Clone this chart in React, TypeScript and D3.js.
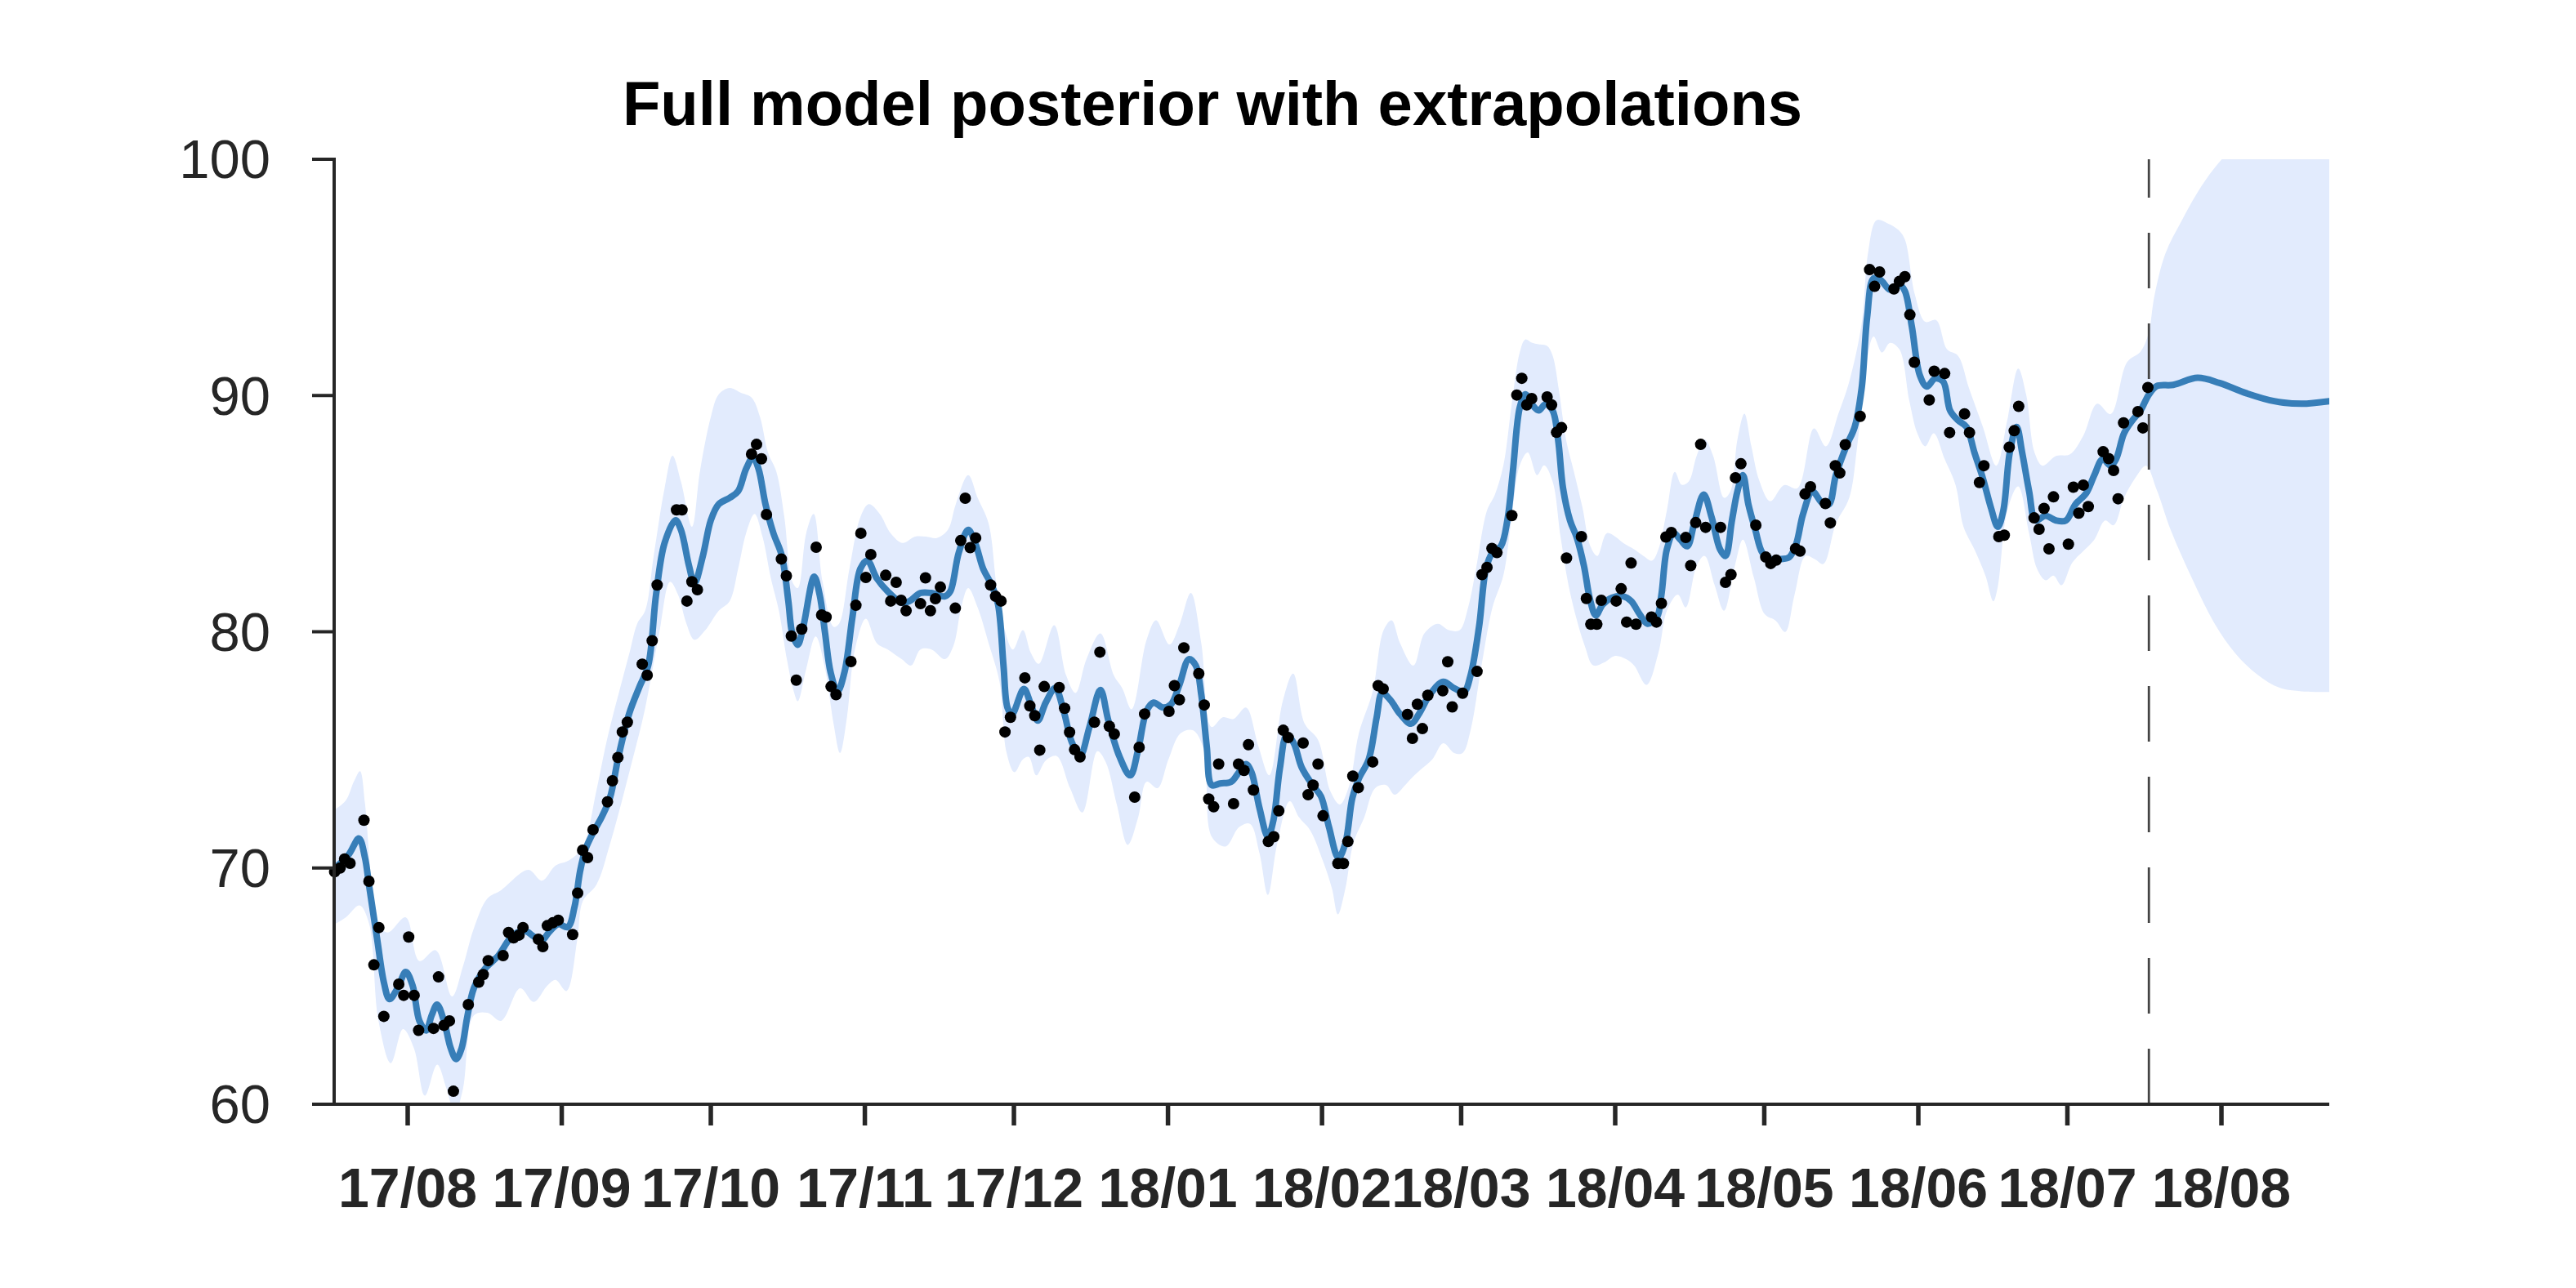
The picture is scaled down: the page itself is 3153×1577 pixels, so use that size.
import React from "react";
import * as d3 from "d3";

// ---------- data (days since 2017-08-01, value) ----------
const titleText = "Full model posterior with extrapolations";
const yTickValues = [60, 70, 80, 90, 100];
const forecastStartDay = 350.4;
const domainStartDay = -14.8;
const domainEndDay = 386.7;

const observations: [number, number][] = [
  [-14.7, 69.84], [-13.6, 70.0], [-12.7, 70.38], [-11.6, 70.2], [-8.8, 72.02], [-7.8, 69.44],
  [-6.8, 65.9], [-5.8, 67.48], [-4.8, 63.72], [-1.8, 65.08], [-0.8, 64.61], [0.2, 67.08],
  [1.3, 64.61], [2.2, 63.13], [5.2, 63.21], [6.2, 65.39], [7.3, 63.34], [8.4, 63.53],
  [9.2, 60.55], [12.2, 64.22], [14.3, 65.17], [15.2, 65.49], [16.2, 66.08], [19.2, 66.29],
  [20.3, 67.27], [21.3, 67.04], [22.4, 67.16], [23.2, 67.48], [26.3, 66.98], [27.2, 66.67],
  [28.1, 67.56], [29.2, 67.68], [30.3, 67.79], [33.2, 67.18], [34.2, 68.94], [35.2, 70.75],
  [36.2, 70.44], [37.3, 71.62], [40.2, 72.8], [41.2, 73.69], [42.3, 74.68], [43.2, 75.76],
  [44.2, 76.17], [47.2, 78.63], [48.2, 78.16], [49.2, 79.62], [50.2, 81.98], [54.1, 85.16],
  [55.2, 85.16], [56.2, 81.3], [57.2, 82.12], [58.3, 81.78], [69.2, 87.52], [70.2, 87.93],
  [71.2, 87.32], [72.2, 84.96], [75.2, 83.08], [76.2, 82.37], [77.2, 79.82], [78.2, 77.95],
  [79.3, 80.11], [82.2, 83.58], [83.3, 80.71], [84.2, 80.62], [85.2, 77.68], [86.2, 77.34],
  [89.2, 78.74], [90.2, 81.12], [91.2, 84.17], [92.2, 82.3], [93.2, 83.27], [96.2, 82.39],
  [97.2, 81.3], [98.3, 82.09], [99.3, 81.33], [100.3, 80.89], [103.2, 81.19], [104.2, 82.28],
  [105.2, 80.89], [106.2, 81.4], [107.2, 81.89], [110.2, 81.0], [111.3, 83.86], [112.2, 85.65],
  [113.2, 83.56], [114.3, 83.97], [117.3, 81.98], [118.3, 81.5], [119.4, 81.3], [120.2, 75.76],
  [121.3, 76.38], [124.2, 78.05], [125.2, 76.86], [126.2, 76.45], [127.2, 74.99], [128.1, 77.68],
  [131.1, 77.64], [132.2, 76.76], [133.2, 75.75], [134.2, 75.01], [135.3, 74.7], [138.2, 76.17],
  [139.3, 79.14], [141.2, 76.0], [142.2, 75.67], [146.3, 73.0], [147.2, 75.11], [148.3, 76.52],
  [153.2, 76.63], [154.3, 77.72], [155.3, 77.12], [156.2, 79.32], [159.2, 78.23], [160.3, 76.9],
  [161.2, 72.92], [162.2, 72.59], [163.2, 74.4], [166.2, 72.72], [167.2, 74.4], [168.3, 74.13],
  [169.2, 75.22], [170.2, 73.3], [173.2, 71.12], [174.3, 71.32], [175.3, 72.42], [176.2, 75.83],
  [177.2, 75.52], [180.2, 75.29], [181.2, 73.1], [182.2, 73.51], [183.2, 74.4], [184.2, 72.21],
  [187.2, 70.19], [188.3, 70.19], [189.2, 71.12], [190.2, 73.89], [191.3, 73.4], [194.2, 74.49],
  [195.3, 77.72], [196.3, 77.58], [201.2, 76.5], [202.2, 75.49], [203.2, 76.93], [204.2, 75.9],
  [205.3, 77.31], [208.3, 77.5], [209.3, 78.73], [210.2, 76.82], [212.3, 77.4], [215.2, 78.32],
  [216.2, 82.42], [217.2, 82.72], [218.2, 83.53], [219.2, 83.35], [222.2, 84.92], [223.2, 90.02],
  [224.2, 90.73], [225.2, 89.6], [226.2, 89.87], [229.3, 89.94], [230.2, 89.6], [231.2, 88.44],
  [232.2, 88.64], [233.2, 83.12], [236.2, 84.03], [237.2, 81.41], [238.1, 80.32], [239.3, 80.32],
  [240.2, 81.33], [243.2, 81.3], [244.2, 81.82], [245.3, 80.41], [246.2, 82.91], [247.2, 80.32],
  [250.3, 80.62], [251.3, 80.41], [252.3, 81.2], [253.2, 84.01], [254.3, 84.2], [257.2, 83.99],
  [258.2, 82.8], [259.2, 84.62], [260.2, 87.93], [261.2, 84.42], [264.2, 84.42], [265.2, 82.09],
  [266.3, 82.42], [267.2, 86.52], [268.3, 87.11], [271.3, 84.51], [273.3, 83.16], [274.3, 82.89],
  [275.4, 83.03], [279.3, 83.52], [280.2, 83.41], [281.2, 85.83], [282.3, 86.14], [285.3, 85.43],
  [286.3, 84.61], [287.3, 87.03], [288.2, 86.72], [289.3, 87.92], [292.3, 89.12], [294.2, 95.33],
  [295.2, 94.62], [296.2, 95.23], [299.1, 94.51], [300.2, 94.83], [301.3, 95.03], [302.3, 93.42],
  [303.2, 91.41], [306.2, 89.81], [307.2, 91.03], [309.3, 90.93], [310.3, 88.43], [313.3, 89.22],
  [314.3, 88.43], [316.3, 86.32], [317.2, 87.03], [320.2, 84.03], [321.3, 84.09], [322.3, 87.81],
  [323.3, 88.51], [324.2, 89.54], [327.3, 84.82], [328.3, 84.34], [329.3, 85.22], [330.3, 83.51],
  [331.2, 85.71], [334.2, 83.71], [335.2, 86.12], [336.3, 85.02], [337.2, 86.21], [338.2, 85.3],
  [341.2, 87.62], [342.3, 87.33], [343.3, 86.83], [344.2, 85.63], [345.3, 88.84], [348.2, 89.32],
  [349.2, 88.63], [350.2, 90.34],
];

const posteriorMean: [number, number][] = [
  [-14.75, 69.98], [-11.9, 70.56], [-9.81, 71.25], [-8.6, 70.44], [-7.79, 69.29], [-6.14, 66.98],
  [-4.77, 65.14], [-3.68, 64.45], [-2.03, 64.91], [-0.39, 65.6], [0.98, 65.03], [2.35, 63.53],
  [3.72, 63.12], [4.82, 63.76], [5.91, 64.22], [7.29, 63.53], [8.66, 62.37], [9.75, 61.91],
  [10.85, 62.37], [11.94, 63.64], [13.31, 64.91], [15.51, 65.72], [18.25, 66.29], [20.44, 66.98],
  [22.08, 67.27], [23.73, 67.33], [25.37, 67.1], [27.02, 66.93], [28.39, 67.27], [30.3, 67.62],
  [32.22, 67.5], [33.59, 68.37], [34.69, 69.86], [35.78, 70.79], [37.43, 71.54], [39.07, 72.17],
  [40.72, 72.98], [42.4, 74.7], [44.6, 76.55], [46.7, 77.7], [48.4, 78.57], [50.0, 81.6],
  [51.7, 83.76], [53.9, 84.72], [55.0, 84.31], [56.6, 82.8], [57.7, 82.05], [59.4, 83.21],
  [61.0, 84.72], [62.6, 85.4], [64.8, 85.67], [66.5, 85.95], [68.1, 86.9], [69.5, 87.38],
  [70.6, 86.9], [72.0, 85.4], [73.6, 84.17], [75.3, 83.21], [76.6, 81.3], [77.4, 79.93],
  [78.5, 79.45], [79.6, 80.21], [81.8, 82.33], [82.9, 81.57], [84.0, 79.93], [85.1, 78.29],
  [86.5, 77.47], [87.9, 78.29], [89.5, 80.62], [91.1, 82.67], [92.5, 83.01], [94.4, 82.26],
  [96.6, 81.71], [99.4, 81.23], [101.0, 81.3], [103.2, 81.64], [105.4, 81.64], [108.1, 81.5],
  [109.2, 81.71], [110.9, 83.35], [112.8, 84.31], [114.2, 83.76], [115.8, 82.67], [117.5, 81.98],
  [118.8, 81.16], [119.9, 78.57], [120.7, 76.79], [121.6, 76.5], [124.0, 77.58], [125.4, 76.93],
  [126.8, 76.24], [128.4, 77.0], [130.3, 77.61], [132.0, 76.65], [133.6, 75.35], [135.3, 74.74],
  [137.2, 75.97], [139.4, 77.54], [141.0, 76.24], [143.2, 74.74], [145.4, 73.92], [147.0, 75.01],
  [148.7, 76.65], [150.1, 77.0], [152.0, 76.79], [153.6, 76.93], [155.3, 77.75], [157.2, 78.84],
  [158.6, 78.57], [159.7, 77.34], [160.8, 75.15], [161.8, 73.51], [163.5, 73.58], [165.7, 73.65],
  [167.3, 74.06], [168.7, 74.4], [169.8, 74.06], [171.4, 72.55], [173.1, 71.32], [174.2, 72.0],
  [175.5, 74.19], [176.9, 75.63], [178.3, 75.29], [179.9, 74.26], [182.1, 73.51], [183.8, 73.03],
  [185.4, 71.73], [187.3, 70.43], [188.7, 71.05], [190.1, 72.96], [191.4, 73.78], [193.4, 74.6],
  [195.0, 76.38], [196.1, 77.41], [197.8, 77.1], [199.7, 76.52], [201.9, 76.11], [203.5, 76.52],
  [205.7, 77.34], [208.4, 77.88], [210.6, 77.61], [212.6, 77.47], [213.9, 78.16], [215.6, 80.21],
  [217.0, 82.67], [218.3, 83.35], [220.0, 83.62], [221.3, 84.72], [222.4, 86.77], [223.8, 89.5],
  [224.9, 90.05], [226.2, 89.64], [227.6, 89.37], [229.0, 89.64], [230.4, 89.37], [231.5, 88.14],
  [232.5, 86.08], [233.9, 84.72], [235.3, 83.97], [236.7, 82.8], [238.0, 81.3], [239.1, 80.69],
  [240.5, 81.16], [242.4, 81.44], [244.6, 81.5], [246.2, 81.3], [247.9, 80.75], [249.5, 80.34],
  [251.4, 80.62], [252.3, 81.57], [253.4, 83.49], [254.8, 84.17], [256.1, 83.9], [257.5, 83.62],
  [258.9, 84.58], [260.8, 85.81], [262.4, 84.85], [264.1, 83.49], [265.2, 83.21], [266.5, 84.72],
  [267.6, 85.95], [268.7, 86.63], [269.8, 85.4], [271.2, 84.31], [272.6, 83.35], [274.2, 83.08],
  [276.4, 83.08], [278.0, 83.15], [279.4, 83.7], [280.8, 84.98], [282.7, 85.94], [284.6, 85.46],
  [286.0, 85.39], [287.4, 86.62], [289.5, 87.85], [291.2, 88.67], [292.6, 90.31], [293.7, 93.32],
  [295.0, 94.96], [296.4, 94.89], [298.3, 94.48], [300.2, 94.69], [301.3, 94.42], [302.7, 92.91],
  [304.3, 90.86], [305.7, 90.38], [307.4, 90.72], [309.0, 90.59], [310.4, 89.36], [312.0, 88.95],
  [313.7, 88.67], [315.3, 87.58], [317.0, 86.49], [318.6, 85.26], [320.0, 84.44], [321.1, 85.12],
  [322.4, 87.58], [323.8, 88.67], [324.9, 87.58], [326.3, 85.94], [327.6, 84.71], [329.6, 84.91],
  [331.7, 84.71], [333.7, 84.71], [335.6, 85.39], [337.8, 85.87], [339.4, 86.62], [341.1, 87.31],
  [342.7, 87.03], [343.8, 87.31], [345.4, 88.4], [347.1, 88.95], [348.7, 89.36], [350.4, 90.04],
  [352.0, 90.4], [355.3, 90.45], [360.2, 90.75], [364.6, 90.53], [370.1, 90.09], [375.6, 89.76],
  [381.1, 89.65], [386.7, 89.76],
];

const bandUpper: [number, number][] = [
  [-14.75, 72.46], [-12.45, 72.86], [-10.8, 73.67], [-9.6, 74.1], [-8.6, 72.75], [-7.5, 69.86],
  [-6.14, 67.67], [-4.0, 67.27], [-0.39, 67.91], [2.35, 66.06], [5.64, 66.52], [8.93, 64.56],
  [11.12, 65.83], [13.31, 67.44], [16.05, 68.71], [18.79, 69.06], [24.28, 69.92], [27.02, 69.46],
  [29.76, 70.1], [32.5, 70.33], [35.24, 70.9], [38.0, 73.3], [40.2, 75.51], [44.6, 79.08],
  [46.2, 80.35], [47.8, 80.9], [49.5, 83.21], [51.7, 86.08], [53.3, 87.45], [55.0, 86.35],
  [57.2, 84.44], [58.8, 86.77], [61.0, 89.09], [62.6, 90.05], [64.8, 90.32], [67.0, 90.12],
  [69.2, 89.91], [70.9, 89.09], [72.5, 87.59], [74.2, 86.77], [75.8, 84.85], [77.4, 82.12],
  [78.5, 81.85], [80.2, 84.17], [81.7, 84.99], [83.5, 82.12], [85.7, 80.21], [86.8, 80.34],
  [88.9, 82.67], [91.1, 84.85], [92.8, 85.4], [95.0, 84.99], [97.2, 84.17], [99.6, 83.76],
  [102.1, 84.03], [104.3, 84.03], [106.5, 83.97], [108.7, 84.31], [110.3, 85.4], [112.8, 86.63],
  [114.7, 85.67], [116.9, 84.58], [118.5, 81.98], [120.0, 80.2], [121.8, 79.25], [123.8, 80.07],
  [125.4, 79.11], [127.0, 78.64], [130.1, 80.28], [132.5, 78.16], [134.4, 77.41], [136.6, 78.84],
  [139.4, 79.93], [142.1, 78.16], [143.8, 77.61], [145.7, 76.72], [148.7, 79.66], [150.6, 80.48],
  [153.3, 79.46], [155.3, 80.28], [157.6, 81.64], [159.7, 79.52], [161.8, 75.97], [164.0, 76.38],
  [166.2, 76.31], [168.7, 76.79], [171.2, 75.15], [173.4, 73.92], [176.1, 77.06], [178.2, 78.23],
  [180.5, 76.11], [183.2, 75.42], [185.7, 73.24], [187.6, 72.69], [189.5, 73.51], [191.4, 75.7],
  [194.2, 77.48], [196.4, 80.07], [198.0, 80.48], [199.7, 79.52], [202.4, 78.57], [204.6, 79.93],
  [207.3, 80.34], [209.5, 80.07], [211.7, 80.07], [213.4, 81.03], [215.0, 82.67], [217.2, 85.13],
  [218.8, 85.81], [220.5, 87.04], [222.1, 89.5], [223.8, 91.83], [224.9, 92.37], [226.2, 92.24],
  [227.6, 92.17], [229.3, 92.1], [230.4, 91.69], [231.7, 90.19], [233.1, 88.14], [234.7, 86.77],
  [236.4, 85.27], [238.0, 83.62], [239.4, 83.21], [241.3, 84.17], [243.0, 84.03], [244.6, 83.76],
  [246.8, 83.49], [248.7, 83.21], [250.4, 83.01], [251.7, 83.49], [253.4, 85.13], [255.0, 86.77],
  [256.4, 86.22], [257.8, 86.36], [259.4, 87.45], [261.0, 88.14], [262.7, 87.45], [264.9, 85.67],
  [266.2, 85.95], [267.6, 88.14], [269.0, 89.23], [270.4, 87.86], [272.0, 86.4], [274.2, 85.53],
  [277.0, 86.21], [279.7, 86.08], [283.0, 88.61], [285.4, 87.85], [287.9, 89.22], [290.1, 90.59],
  [292.6, 93.05], [293.9, 96.06], [295.6, 97.42], [297.8, 97.29], [300.0, 97.01], [301.3, 96.6],
  [303.3, 94.28], [305.4, 93.12], [307.6, 93.19], [309.8, 91.95], [312.0, 91.68], [314.2, 90.31],
  [317.0, 88.67], [319.7, 87.03], [321.9, 88.95], [324.1, 91.14], [325.7, 90.04], [327.4, 87.58],
  [329.0, 87.03], [331.7, 87.44], [334.5, 87.51], [337.2, 88.3], [340.0, 89.65], [342.7, 89.21],
  [346.0, 91.41], [348.7, 91.85], [350.3, 92.6], [351.5, 94.2], [353.7, 96.0], [357.0, 97.4],
  [360.2, 98.6], [363.5, 99.6], [367.0, 100.4], [375.0, 101.6], [386.7, 102.3],
];

const bandLower: [number, number][] = [
  [-14.75, 67.62], [-12.45, 67.91], [-9.7, 68.42], [-7.8, 67.67], [-5.87, 63.53], [-3.4, 61.74],
  [-0.94, 63.18], [1.26, 62.37], [3.45, 60.36], [5.93, 61.68], [7.83, 60.65], [9.48, 59.6],
  [11.12, 60.65], [13.31, 63.76], [16.05, 63.87], [18.79, 63.53], [22.63, 64.91], [25.37, 64.33],
  [28.11, 65.02], [29.76, 65.26], [31.95, 64.79], [34.14, 66.98], [35.24, 68.6], [37.98, 69.29],
  [40.72, 71.02], [45.1, 74.47], [47.8, 76.78], [50.6, 79.93], [52.8, 82.12], [54.4, 81.57],
  [56.1, 80.34], [57.7, 79.66], [59.9, 80.07], [62.6, 80.89], [64.8, 81.3], [66.5, 82.67],
  [68.1, 84.17], [69.8, 84.99], [71.4, 84.03], [73.1, 82.26], [74.7, 80.89], [76.3, 78.84],
  [77.7, 77.47], [78.5, 77.06], [80.2, 78.43], [82.1, 79.8], [84.0, 78.43], [85.7, 76.11],
  [87.0, 74.87], [88.4, 76.38], [90.0, 79.25], [92.2, 80.55], [94.4, 79.52], [96.6, 79.25],
  [99.4, 78.84], [101.3, 78.57], [103.2, 79.25], [105.4, 79.25], [108.1, 78.84], [109.8, 79.39],
  [111.4, 81.03], [112.8, 81.85], [114.7, 81.03], [116.9, 79.52], [119.1, 77.88], [120.5, 74.9],
  [122.1, 74.05], [123.8, 74.6], [125.0, 74.7], [126.5, 73.92], [128.4, 74.55], [130.6, 74.74],
  [133.3, 73.38], [135.8, 72.35], [138.8, 74.94], [140.5, 74.47], [142.7, 72.69], [144.9, 70.98],
  [147.0, 72.14], [148.7, 73.65], [150.9, 73.38], [153.1, 74.6], [155.5, 75.7], [158.0, 75.83],
  [160.2, 75.01], [161.8, 71.32], [164.6, 70.91], [167.3, 71.73], [169.5, 71.87], [171.4, 70.64],
  [173.1, 68.86], [175.0, 71.05], [177.5, 72.83], [179.4, 72.14], [181.6, 71.6], [184.3, 70.23],
  [186.0, 69.13], [187.2, 68.04], [188.7, 69.13], [190.3, 71.05], [192.5, 72.14], [194.7, 73.38],
  [196.9, 73.51], [198.6, 73.1], [200.7, 73.5], [201.9, 73.78], [204.0, 74.19], [206.2, 74.6],
  [208.4, 75.28], [210.6, 74.87], [212.3, 74.87], [213.9, 75.83], [216.1, 78.57], [218.3, 81.03],
  [220.5, 82.39], [222.1, 84.72], [223.8, 87.04], [225.4, 87.59], [227.3, 86.63], [228.7, 87.04],
  [230.4, 86.36], [232.0, 84.03], [233.6, 81.98], [235.3, 80.48], [236.9, 79.39], [238.6, 78.57],
  [240.8, 78.7], [243.0, 78.98], [245.2, 78.84], [246.8, 78.57], [249.3, 77.75], [251.7, 79.11],
  [253.4, 80.89], [255.6, 81.57], [257.2, 81.03], [259.4, 82.8], [261.0, 83.21], [263.0, 81.98],
  [264.9, 80.89], [267.1, 82.8], [268.7, 83.9], [270.9, 82.3], [273.1, 80.74], [275.3, 80.47],
  [277.2, 79.99], [279.1, 81.57], [281.3, 83.21], [283.2, 83.07], [284.9, 82.87], [287.4, 84.57],
  [290.1, 85.67], [291.7, 87.85], [293.4, 91.14], [295.0, 92.5], [296.7, 91.82], [298.3, 92.23],
  [300.2, 91.95], [302.2, 89.77], [303.8, 88.4], [305.4, 87.85], [307.1, 88.4], [309.3, 87.31],
  [311.5, 86.21], [313.1, 84.44], [315.3, 83.48], [317.5, 82.38], [319.1, 81.29], [320.0, 81.91],
  [321.9, 85.12], [324.1, 86.15], [326.3, 84.16], [327.9, 82.66], [329.6, 82.18], [331.2, 82.38],
  [332.8, 81.97], [335.0, 82.93], [337.2, 83.41], [339.4, 83.89], [341.6, 84.71], [343.3, 84.51],
  [345.4, 85.67], [347.6, 86.49], [349.8, 87.03], [352.0, 86.0], [354.8, 84.3], [359.2, 82.2],
  [363.5, 80.39], [367.9, 79.06], [372.3, 78.18], [376.7, 77.63], [381.1, 77.48], [386.7, 77.45],
];

// ---------- helpers ----------
const BASE = Date.UTC(2017, 7, 1);
const dayToDate = (d: number) => new Date(BASE + d * 864e5);

const W = 3153;
const H = 1577;
const PLOT = { left: 409, right: 2851, top: 195, bottom: 1352 };
const AXIS_COLOR = "#262626";
const FONT = "'Liberation Sans', Arial, Helvetica, sans-serif";

export default function App() {
  const x = d3
    .scaleUtc()
    .domain([dayToDate(domainStartDay), dayToDate(domainEndDay)])
    .range([PLOT.left, PLOT.right]);
  const y = d3.scaleLinear().domain([60, 100]).range([PLOT.bottom, PLOT.top]);

  const line = d3
    .line<[number, number]>()
    .x((d) => x(dayToDate(d[0])))
    .y((d) => y(d[1]))
    .curve(d3.curveCatmullRom.alpha(0.5));

  const upperPath = line(bandUpper) || "";
  const lowerPath = (line(bandLower.slice().reverse()) || "").replace(/^M/, "L");
  const bandPath = upperPath + lowerPath + "Z";
  const meanPath = line(posteriorMean) || "";

  const xTicks = d3.utcMonth.range(dayToDate(0), dayToDate(366));
  const fmt = d3.utcFormat("%y/%m");
  const xf = x(dayToDate(forecastStartDay));

  return (
    <svg
      width={W}
      height={H}
      viewBox={`0 0 ${W} ${H}`}
      style={{ position: "absolute", left: 0, top: 0, display: "block", background: "#fff" }}
    >
      <defs>
        <clipPath id="plotClip">
          <rect
            x={PLOT.left}
            y={PLOT.top}
            width={PLOT.right - PLOT.left}
            height={PLOT.bottom - PLOT.top}
          />
        </clipPath>
      </defs>
      <rect x={0} y={0} width={W} height={H} fill="#fff" />

      <g clipPath="url(#plotClip)">
        <path d={bandPath} fill="#e2ebfd" stroke="none" />
        <path d={meanPath} fill="none" stroke="#377eb8" strokeWidth={8} strokeLinejoin="round" strokeLinecap="round" />
      </g>

      {observations.map((d, i) => (
        <circle key={i} cx={x(dayToDate(d[0]))} cy={y(d[1])} r={7} fill="#000" />
      ))}

      <line
        x1={xf}
        x2={xf}
        y1={PLOT.bottom}
        y2={PLOT.top}
        stroke="#444"
        strokeWidth={2.8}
        strokeDasharray="68 43"
      />

      {/* axes */}
      <line x1={PLOT.left} x2={PLOT.left} y1={PLOT.top - 2} y2={PLOT.bottom + 2} stroke={AXIS_COLOR} strokeWidth={4} />
      <line x1={PLOT.left - 2} x2={PLOT.right} y1={PLOT.bottom} y2={PLOT.bottom} stroke={AXIS_COLOR} strokeWidth={4} />

      {yTickValues.map((v) => (
        <g key={v}>
          <line x1={PLOT.left - 27} x2={PLOT.left} y1={y(v)} y2={y(v)} stroke={AXIS_COLOR} strokeWidth={4} />
          <text
            x={331}
            y={y(v)}
            dy="0.35em"
            textAnchor="end"
            fontFamily={FONT}
            fontSize={67}
            fill={AXIS_COLOR}
          >
            {v}
          </text>
        </g>
      ))}

      {xTicks.map((t, i) => (
        <g key={i}>
          <line x1={x(t)} x2={x(t)} y1={PLOT.bottom} y2={PLOT.bottom + 26} stroke={AXIS_COLOR} strokeWidth={5.5} />
          <text
            x={x(t)}
            y={1478}
            textAnchor="middle"
            fontFamily={FONT}
            fontWeight="bold"
            fontSize={68}
            fill={AXIS_COLOR}
          >
            {fmt(t)}
          </text>
        </g>
      ))}

      <text
        x={1484}
        y={153}
        textAnchor="middle"
        fontFamily={FONT}
        fontWeight="bold"
        fontSize={76}
        fill="#000"
      >
        {titleText}
      </text>
    </svg>
  );
}
